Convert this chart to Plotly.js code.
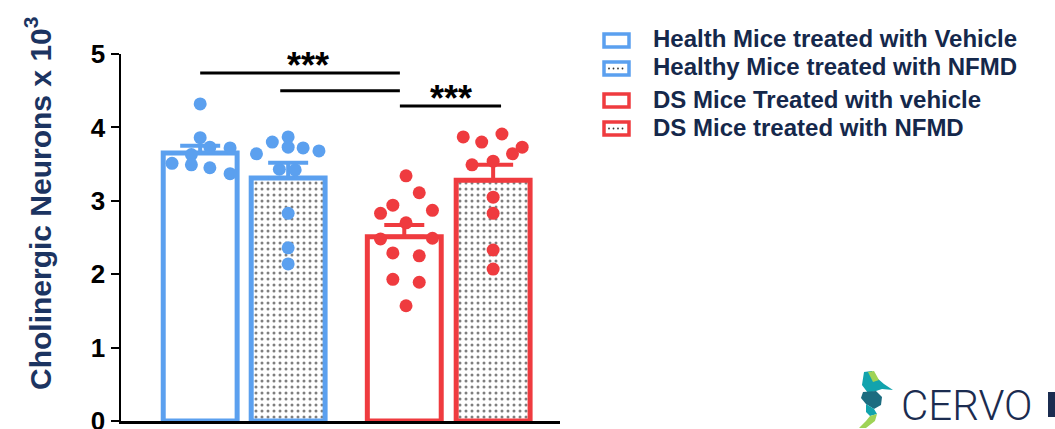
<!DOCTYPE html>
<html>
<head>
<meta charset="utf-8">
<script src="https://cdn.plot.ly/plotly-3.0.1.min.js"></script>
<style>html,body{margin:0;padding:0;background:#fff;}#chart{width:1055px;height:429px;}</style>
</head>
<body>
<div id="chart"></div>
<script>
// ---- data ----
const groups = ['Health Mice treated with Vehicle', 'Healthy Mice treated with NFMD', 'DS Mice Treated with vehicle', 'DS Mice treated with NFMD'];
const barPos = [0, 1, 2.32, 3.33];
const means = [3.65, 3.31, 2.51, 3.28];
const sem = [0.10, 0.21, 0.16, 0.21];
const colors = ['#5ba0ef', '#5ba0ef', '#ef3b3f', '#ef3b3f'];
const patterned = [false, true, false, true];

const pts1 = [4.32, 3.86, 3.73, 3.72, 3.63, 3.51, 3.49, 3.45, 3.37];
const jit1 = [0, 0, 0.11, 0.34, -0.10, -0.32, -0.10, 0.11, 0.34];
const pts2 = [3.64, 3.80, 3.87, 3.73, 3.72, 3.68, 3.43, 3.42, 2.83, 2.36, 2.14];
const jit2 = [-0.36, -0.18, 0, 0, 0.17, 0.35, -0.10, 0.08, 0, 0, 0];
const pts3 = [3.34, 3.11, 2.94, 2.83, 2.87, 2.70, 2.48, 2.49, 2.29, 2.25, 1.93, 1.89, 1.57];
const jit3 = [0.02, 0.17, -0.13, -0.27, 0.32, 0.02, -0.27, 0.32, -0.13, 0.17, -0.13, 0.17, 0.02];
const pts4 = [3.87, 3.80, 3.91, 3.73, 3.64, 3.49, 3.54, 3.05, 2.83, 2.33, 2.07];
const jit4 = [-0.34, -0.13, 0.10, 0.33, 0.22, -0.24, 0, 0, 0, 0, 0];
const points = [pts1, pts2, pts3, pts4];
const jitter = [jit1, jit2, jit3, jit4];

// significance brackets
const sigX0 = [0, 0.91, 2.27];
const sigX1 = [2.27, 2.27, 3.42];
const sigY = [4.74, 4.50, 4.29];
const starX = [1.22, 2.85];
const starY = [4.84, 4.39];
const starText = ['***', '***'];

const yTicks = [0, 1, 2, 3, 4, 5];
const yTitle = 'Cholinergic Neurons x 10<sup>3</sup>';

// ---- traces ----
const traces = [];
groups.forEach((g, i) => {
  traces.push({
    type: 'bar',
    x: [barPos[i]],
    y: [means[i]],
    name: g,
    width: 0.84,
    marker: {
      color: '#ffffff',
      line: {color: colors[i], width: 5},
      pattern: patterned[i] ? {shape: '.', fgcolor: '#000000', bgcolor: '#ffffff', size: 6, solidity: 0.2, fillmode: 'overlay'} : {shape: ''}
    },
    error_y: {type: 'data', symmetric: false, array: [sem[i]], arrayminus: [0], color: colors[i], thickness: 4, width: 20},
    showlegend: false,
    hoverinfo: 'skip'
  });
});
groups.forEach((g, i) => {
  traces.push({
    type: 'scatter',
    mode: 'markers',
    x: points[i].map((v, k) => barPos[i] + jitter[i][k]),
    y: points[i],
    name: g,
    marker: {color: colors[i], size: 13},
    showlegend: false,
    hoverinfo: 'skip',
    cliponaxis: false
  });
});

// ---- layout helpers ----
const L = 121, R = 560, T = 54, B = 421;
function px(x) { return (x - L) / (R - L); }
function py(y) { return (B - y) / (B - T); }
function path(ptsArr) {
  return 'M' + ptsArr.map(p => px(p[0]).toFixed(4) + ',' + py(p[1]).toFixed(4)).join(' L') + ' Z';
}

const shapes = [];
const annotations = [];
sigY.forEach((y, i) => {
  shapes.push({type: 'line', xref: 'x', yref: 'y', x0: sigX0[i], x1: sigX1[i], y0: y, y1: y, line: {color: '#000000', width: 3}});
});
starX.forEach((x, i) => annotations.push({
  x: x, y: starY[i], xref: 'x', yref: 'y', text: starText[i], showarrow: false,
  font: {family: 'Arial, Liberation Sans, sans-serif', size: 36, color: '#000000', weight: 'bold'}
}));

// custom legend (icons + labels)
const legTop = [34, 62, 94, 122];
groups.forEach((g, i) => {
  const y0 = legTop[i], y1 = legTop[i] + 13;
  shapes.push({type: 'rect', xref: 'paper', yref: 'paper', x0: px(604), x1: px(629), y0: py(y1), y1: py(y0),
    fillcolor: '#ffffff', line: {color: colors[i], width: 3.5}});
  if (patterned[i]) {
    [609, 613.5, 618, 622.5].forEach(dx => {
      shapes.push({type: 'circle', xref: 'paper', yref: 'paper', x0: px(dx - 0.9), x1: px(dx + 0.9), y0: py(y0 + 7.4), y1: py(y0 + 5.6),
        fillcolor: '#333333', line: {width: 0}});
    });
  }
  annotations.push({
    xref: 'paper', yref: 'paper', x: px(651), y: py(y0 + 5), xanchor: 'left', yanchor: 'middle',
    text: g, showarrow: false,
    font: {family: 'Arial, Liberation Sans, sans-serif', size: 24, color: '#15284b', weight: 'bold'}
  });
});

// y axis title
annotations.push({
  xref: 'paper', yref: 'paper', x: px(38), y: py(204), xanchor: 'center', yanchor: 'middle',
  text: yTitle, textangle: -90, showarrow: false,
  font: {family: 'Arial, Liberation Sans, sans-serif', size: 30, color: '#1c3461', weight: 'bold'}
});

// logo pieces (seahorse)
shapes.push({type: 'path', xref: 'paper', yref: 'paper', fillcolor: '#12a3ad', line: {width: 0},
  path: path([[864,372],[872,371],[877,378],[884,384],[893,390],[882,389],[876,391],[868,393],[862,385]])});
shapes.push({type: 'path', xref: 'paper', yref: 'paper', fillcolor: '#9fd356', line: {width: 0},
  path: path([[868,372],[874,371],[879,380],[873,382]])});
shapes.push({type: 'path', xref: 'paper', yref: 'paper', fillcolor: '#1c6c80', line: {width: 0},
  path: path([[863,392],[876,391],[882,397],[881,405],[874,409],[866,404],[861,398]])});
shapes.push({type: 'path', xref: 'paper', yref: 'paper', fillcolor: '#12a3ad', line: {width: 0},
  path: path([[866,404],[874,409],[877,414],[870,416],[866,412]])});
shapes.push({type: 'path', xref: 'paper', yref: 'paper', fillcolor: '#9fd356', line: {width: 0},
  path: path([[870,416],[877,414],[875,421],[866,428],[859,428],[866,421]])});
shapes.push({type: 'rect', xref: 'paper', yref: 'paper', x0: px(1048), x1: px(1056), y0: py(417), y1: py(392), fillcolor: '#1b2c50', line: {width: 0}});
annotations.push({
  xref: 'paper', yref: 'paper', x: px(899), y: py(405), xanchor: 'left', yanchor: 'middle',
  text: 'CERVO', showarrow: false,
  font: {family: 'Roboto, Open Sans, sans-serif', size: 42, color: '#1b2c50', weight: 300}
});

const layout = {
  width: 1055, height: 429,
  margin: {l: L, r: 1055 - R, t: T, b: 429 - B, pad: 0},
  paper_bgcolor: '#ffffff', plot_bgcolor: '#ffffff',
  showlegend: false,
  barmode: 'overlay',
  font: {family: 'Arial, Liberation Sans, sans-serif'},
  xaxis: {range: [-0.9, 4.09], showline: true, linecolor: '#000000', linewidth: 2.5, showticklabels: false, ticks: '', showgrid: false, zeroline: false, fixedrange: true},
  yaxis: {
    range: [0, 5], tickvals: yTicks, ticktext: yTicks.map(String), showline: true, linecolor: '#000000', linewidth: 2.5,
    ticks: 'outside', ticklen: 8, tickwidth: 2, tickcolor: '#000000', showgrid: false, zeroline: false, automargin: false,
    ticklabeloverflow: 'allow',
    tickfont: {size: 26, color: '#000000', weight: 'bold'}
  },
  shapes: shapes,
  annotations: annotations
};

Plotly.newPlot('chart', traces, layout, {staticPlot: true, displayModeBar: false});
</script>
</body>
</html>
